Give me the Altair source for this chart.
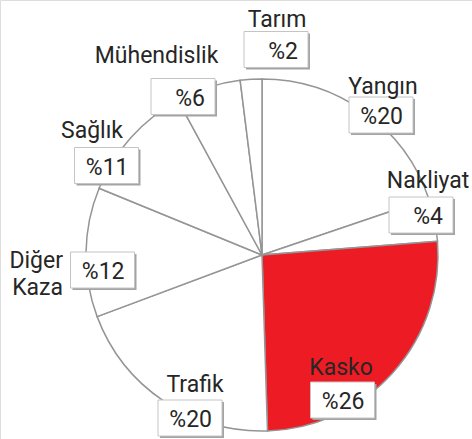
import altair as alt
import pandas as pd

# ---- data ----
categories = ["Yangın", "Nakliyat", "Kasko", "Trafik", "Diğer Kaza", "Sağlık", "Mühendislik", "Tarım"]
shares = [20, 4, 26, 20, 12, 11, 6, 2]
name_text = ["Yangın", "Nakliyat", "Kasko", "Trafik", "Diğer\nKaza", "Sağlık", "Mühendislik", "Tarım"]

# ---- label layout (pixel positions of annotation boxes / names) ----
box_cx = [381, 421, 342.5, 190, 102.5, 106.5, 183, 276]
box_cy = [115, 215, 400, 418, 270, 165.5, 96.5, 49.5]
name_x = [383, 428, 341, 195, 63, 92, 156.5, 277]
name_y = [94, 188, 375, 392, 268, 138, 63, 27]
name_right = [False, False, False, False, True, False, False, False]

W, H = 472, 439
CX, CY, R = 262, 255, 176
BW, BH = 64, 36
FONT = "Roboto"
TXT = "#262626"

df = pd.DataFrame({
    "cat": categories,
    "share": shares,
    "idx": list(range(len(categories))),
    "val": [f"%{v}" for v in shares],
    "name": name_text,
    "bx": box_cx,
    "by": box_cy,
    "nx": name_x,
    "ny": name_y,
    "right": name_right,
})
df["x0"] = df["bx"] - BW / 2
df["x1"] = df["bx"] + BW / 2
df["y0"] = df["by"] - BH / 2
df["y1"] = df["by"] + BH / 2
df["sx0"] = df["x0"] + 2
df["sx1"] = df["x1"] + 2
df["sy0"] = df["y0"] + 2
df["sy1"] = df["y1"] + 2
df["vx"] = df["x1"] - 10
df["vy"] = df["by"] + 9

xs = alt.Scale(domain=[0, W], range=[0, W])
ys = alt.Scale(domain=[0, H], range=[0, H])

base = alt.Chart(df)

pie = base.mark_arc(radius=R, stroke="#959595", strokeWidth=1.5).encode(
    theta=alt.Theta("share:Q", stack=True),
    order=alt.Order("idx:Q"),
    color=alt.Color(
        "cat:N",
        scale=alt.Scale(
            domain=categories,
            range=["#ffffff", "#ffffff", "#ed1c24", "#ffffff", "#ffffff", "#ffffff", "#ffffff", "#ffffff"],
        ),
        legend=None,
    ),
    x=alt.value(CX),
    y=alt.value(CY),
)

shadow = base.mark_rect(fill="#a3a3a3").encode(
    x=alt.X("sx0:Q", scale=xs, axis=None),
    x2="sx1:Q",
    y=alt.Y("sy0:Q", scale=ys, axis=None),
    y2="sy1:Q",
)

box = base.mark_rect(fill="#ffffff", stroke="#c4c4c4", strokeWidth=1).encode(
    x=alt.X("x0:Q", scale=xs, axis=None),
    x2="x1:Q",
    y=alt.Y("y0:Q", scale=ys, axis=None),
    y2="y1:Q",
)

vals = base.mark_text(
    font=FONT, fontSize=23, fontWeight=400, color=TXT, align="right", baseline="alphabetic"
).encode(
    x=alt.X("vx:Q", scale=xs, axis=None),
    y=alt.Y("vy:Q", scale=ys, axis=None),
    text="val:N",
)

names_c = base.transform_filter("!datum.right").mark_text(
    font=FONT, fontSize=23, fontWeight=400, color=TXT, align="center", baseline="alphabetic",
    lineBreak="\n", lineHeight=27,
).encode(
    x=alt.X("nx:Q", scale=xs, axis=None),
    y=alt.Y("ny:Q", scale=ys, axis=None),
    text="name:N",
)

names_r = base.transform_filter("datum.right").mark_text(
    font=FONT, fontSize=23, fontWeight=400, color=TXT, align="right", baseline="alphabetic",
    lineBreak="\n", lineHeight=27,
).encode(
    x=alt.X("nx:Q", scale=xs, axis=None),
    y=alt.Y("ny:Q", scale=ys, axis=None),
    text="name:N",
)

chart = alt.layer(pie, shadow, box, vals, names_c, names_r).properties(
    width=W, height=H, padding=0, autosize=alt.AutoSizeParams(type="none"),
).configure_view(stroke=None).configure(background="#ffffff")

chart.save("out.html", embed_options={"renderer": "svg", "actions": False})
